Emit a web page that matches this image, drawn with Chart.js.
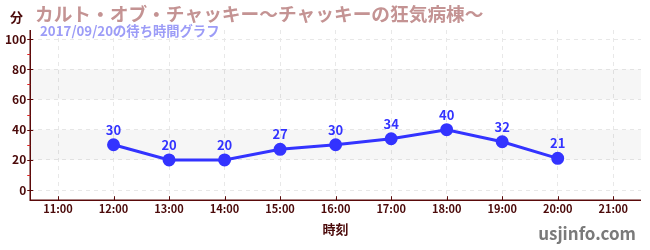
<!DOCTYPE html>
<html lang="ja">
<head>
  <meta charset="UTF-8" />
  <title>カルト・オブ・チャッキー〜チャッキーの狂気病棟〜 待ち時間</title>
  <script src="https://cdn.jsdelivr.net/npm/chart.js"></script>
  <style>
    body {
      margin: 0;
      padding: 0;
      background: #ffffff;
    }
    #wrap {
      width: 650px;
      height: 250px;
    }
  </style>
</head>
<body>
  <div id="wrap"><canvas id="waitChart"></canvas></div>

  <script>
    // données
    const hours = [12, 13, 14, 15, 16, 17, 18, 19, 20];
    const waitMinutes = [30, 20, 20, 27, 30, 34, 40, 32, 21];
    const hourTicks = [11, 12, 13, 14, 15, 16, 17, 18, 19, 20, 21];
    const minuteTicks = [0, 20, 40, 60, 80, 100];
    const minorTicks = [10, 30, 50, 70, 90];
    const bands = [[20, 40], [60, 80]];

    const FONT = "'Noto Sans CJK JP', 'Noto Sans', sans-serif";
    const AXIS_COLOR = '#5a0a0a';
    const LINE_COLOR = '#3333ff';

    const points = hours.map((h, i) => ({ x: h, y: waitMinutes[i] }));

    // bandes grises + axes + textes
    const decor = {
      id: 'decor',
      beforeDatasetsDraw(chart) {
        const { ctx, chartArea: a, scales: { y } } = chart;
        ctx.save();
        ctx.fillStyle = 'rgba(0,0,0,0.035)';
        bands.forEach(([lo, hi]) => {
          const top = y.getPixelForValue(hi);
          const bot = y.getPixelForValue(lo);
          ctx.fillRect(a.left, top, a.right - a.left, bot - top);
        });
        ctx.restore();
      },
      afterDraw(chart) {
        const { ctx, chartArea: a, scales: { x, y } } = chart;
        ctx.save();
        // axes
        ctx.strokeStyle = AXIS_COLOR;
        ctx.lineWidth = 1.5;
        ctx.beginPath();
        ctx.moveTo(a.left, a.top);
        ctx.lineTo(a.left, a.bottom);
        ctx.lineTo(a.right, a.bottom);
        ctx.stroke();
        ctx.lineWidth = 1;
        minuteTicks.forEach(v => {
          const py = Math.round(y.getPixelForValue(v)) + 0.5;
          ctx.beginPath();
          ctx.moveTo(a.left - 3, py);
          ctx.lineTo(a.left + 3, py);
          ctx.stroke();
        });
        hourTicks.forEach(v => {
          const px = Math.round(x.getPixelForValue(v)) + 0.5;
          ctx.beginPath();
          ctx.moveTo(px, a.bottom);
          ctx.lineTo(px, a.bottom - 4);
          ctx.stroke();
        });
        ctx.strokeStyle = '#dd2222';
        minorTicks.forEach(v => {
          const py = Math.round(y.getPixelForValue(v)) + 0.5;
          ctx.beginPath();
          ctx.moveTo(a.left - 3, py);
          ctx.lineTo(a.left, py);
          ctx.stroke();
        });

        // valeurs au-dessus des points
        ctx.fillStyle = LINE_COLOR;
        ctx.font = 'bold 13px ' + FONT;
        ctx.textAlign = 'center';
        ctx.textBaseline = 'middle';
        chart.getDatasetMeta(0).data.forEach((pt, i) => {
          ctx.fillText(String(waitMinutes[i]), pt.x, pt.y - 15);
        });

        // titres
        ctx.textAlign = 'left';
        ctx.textBaseline = 'alphabetic';
        ctx.fillStyle = '#c49393';
        ctx.font = 'bold 18.7px ' + FONT;
        ctx.fillText('カルト・オブ・チャッキー〜チャッキーの狂気病棟〜', 35, 21);
        ctx.fillStyle = '#9c9cf7';
        ctx.font = 'bold 13.3px ' + FONT;
        ctx.fillText('2017/09/20の待ち時間グラフ', 40, 36);
        ctx.fillStyle = '#4b0a0a';
        ctx.font = 'bold 13px ' + FONT;
        ctx.fillText('分', 10, 22);
        ctx.fillStyle = '#7a7a7a';
        ctx.font = 'bold 17px ' + FONT;
        ctx.textAlign = 'right';
        ctx.fillText('usjinfo.com', 636, 240);
        ctx.restore();
      }
    };

    new Chart(document.getElementById('waitChart'), {
      type: 'line',
      data: {
        datasets: [{
          data: points,
          borderColor: LINE_COLOR,
          backgroundColor: LINE_COLOR,
          borderWidth: 3,
          pointRadius: 5,
          pointHoverRadius: 5,
          tension: 0
        }]
      },
      options: {
        responsive: true,
        maintainAspectRatio: false,
        animation: false,
        layout: { padding: { left: 1, right: 9, top: 30, bottom: 13 } },
        plugins: {
          legend: { display: false },
          tooltip: { enabled: false }
        },
        scales: {
          x: {
            type: 'linear',
            min: 10.5,
            max: 21.5,
            afterBuildTicks: scale => { scale.ticks = hourTicks.map(v => ({ value: v })); },
            border: { display: false, dash: [4, 4] },
            grid: { color: '#e8e8e8', drawTicks: false },
            ticks: {
              color: '#4b0a0a',
              font: { family: FONT, size: 11, weight: 'bold' },
              padding: 2,
              maxRotation: 0,
              callback: v => v + ':00'
            },
            title: {
              display: true,
              text: '時刻',
              color: '#4b0a0a',
              font: { family: FONT, size: 13, weight: 'bold' },
              padding: { top: 4, bottom: 0 }
            }
          },
          y: {
            min: -6.7,
            max: 106,
            afterBuildTicks: scale => { scale.ticks = minuteTicks.map(v => ({ value: v })); },
            border: { display: false, dash: [4, 4] },
            grid: { color: '#e8e8e8', drawTicks: false },
            ticks: {
              color: '#4b0a0a',
              font: { family: FONT, size: 12, weight: 'bold' },
              padding: 4
            }
          }
        }
      },
      plugins: [decor]
    });
  </script>
</body>
</html>
